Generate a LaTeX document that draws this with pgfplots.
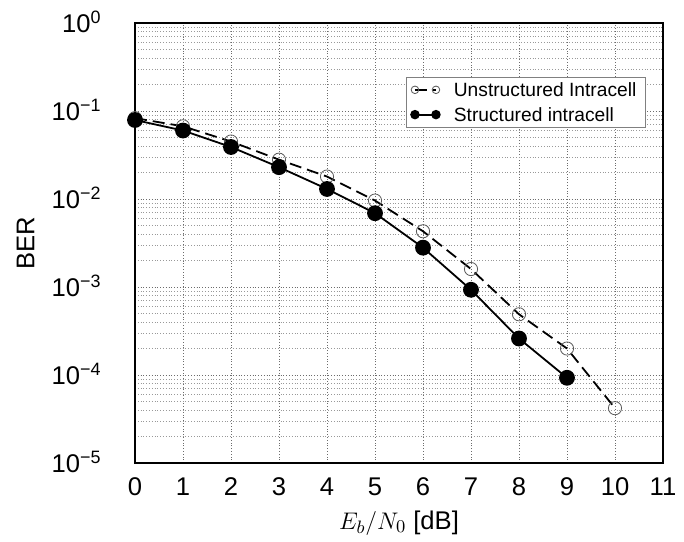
\documentclass[border=0pt]{standalone}
\usepackage{fontspec}
\setmainfont{Liberation Sans}
\usepackage{pgfplots}
\pgfplotsset{compat=1.18}
\begin{document}
\begin{tikzpicture}[x=1pt,y=1pt]
\begin{semilogyaxis}[
    width=264pt, height=220pt,
    scale only axis,
    xmin=0, xmax=11, ymin=1e-5, ymax=1,
    xtick={0,1,...,11},
    ytick={1e-5,1e-4,1e-3,1e-2,1e-1,1},
    yticklabels={10\textsuperscript{−5},10\textsuperscript{−4},10\textsuperscript{−3},10\textsuperscript{−2},10\textsuperscript{−1},10\textsuperscript{0}},
    /pgf/number format/assume math mode=true,
    tick label style={font=\fontsize{12.8}{15}\selectfont, inner sep=0pt},
    yticklabel style={anchor=base east, xshift=-16.5pt, yshift=-4.6pt},
    xticklabel style={anchor=base, yshift=-16pt},
    xlabel={$E_b/N_0$ [dB]},
    ylabel={BER},
    label style={font=\fontsize{12.8}{15}\selectfont},
    xlabel style={at={(axis description cs:0.5,0)}, anchor=base, yshift=-33pt},
    ylabel style={at={(axis description cs:0,0.5)}, anchor=center, yshift=54.75pt},
    axis line style={line width=1.4pt},
    major tick length=0pt, minor tick length=0pt,
    grid=both,
    major grid style={densely dotted, gray!85!black, line width=0.4pt},
    minor grid style={densely dotted, gray!80, line width=0.4pt},
    minor x tick num=0,
    legend image code/.code={
        \draw[#1, mark size=1.9pt] plot coordinates {(0pt,0pt) (10.5pt,0pt)};
        \path (17pt,0pt);
    },
    legend style={at={(0.513,0.877)}, anchor=north west, draw=gray, line width=0.3pt,
        font=\fontsize{9.6}{11}\selectfont, inner xsep=2.5pt, inner ysep=0pt,
        nodes={inner ysep=2.7pt, text height=7pt, text depth=0pt},
        cells={anchor=west}},
    legend cell align=left,
]
% open circles, dashed
\addplot[black, dash pattern=on 6pt off 3pt, line width=0.9pt, mark=o, mark size=3.3pt,
    mark options={solid, gray!70!black, fill=white, line width=0.4pt}]
coordinates {
    (0,0.083) (1,0.067) (2,0.045) (3,0.028) (4,0.018) (5,0.0096)
    (6,0.0043) (7,0.0016) (8,4.9e-4) (9,2.0e-4) (10,4.2e-5)
};
\addlegendentry{Unstructured Intracell\hspace{6pt}}
% filled circles, solid
\addplot[black, solid, line width=0.9pt, mark=*, mark size=3.5pt]
coordinates {
    (0,0.079) (1,0.060) (2,0.039) (3,0.023) (4,0.013) (5,0.0069)
    (6,0.0028) (7,9.3e-4) (8,2.6e-4) (9,9.3e-5)
};
\addlegendentry{Structured intracell}
\end{semilogyaxis}
\pgfresetboundingbox
\useasboundingbox (-67.5pt,-39pt) rectangle (274.5pt,231.5pt);
\end{tikzpicture}
\end{document}
